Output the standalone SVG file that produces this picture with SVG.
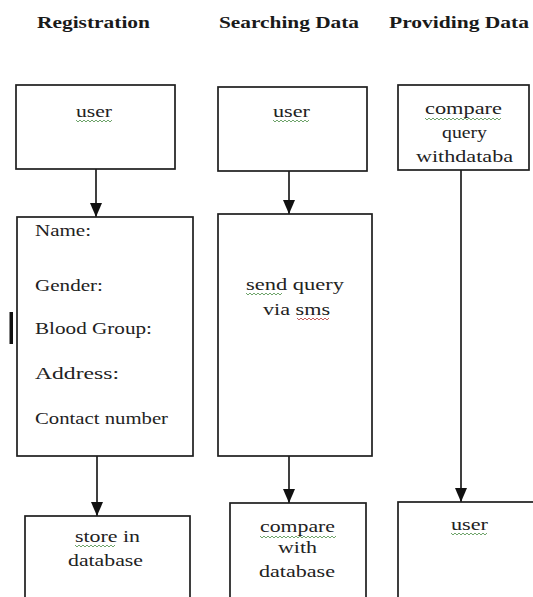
<svg xmlns="http://www.w3.org/2000/svg" width="533" height="597" viewBox="0 0 533 597">
<style>
.bx{fill:#fff;stroke:#1e1e1e;stroke-width:1.7}
.t{font-family:"Liberation Serif","Times New Roman",serif;font-size:16.5px;fill:#222}
.h{font-family:"Liberation Serif","Times New Roman",serif;font-size:16px;font-weight:bold;fill:#1a1a1a}
.cn{stroke:#1e1e1e;stroke-width:1.7;fill:none}
.sqg{stroke:#5f9a5a;stroke-width:0.9;fill:none}
.sqr{stroke:#c04a4a;stroke-width:0.9;fill:none}
</style>
<defs>
<marker id="ah" markerUnits="userSpaceOnUse" viewBox="0 0 14 12" markerWidth="14" markerHeight="12" refX="14" refY="6" orient="auto">
<path d="M0,0 L14,6 L0,12 z" fill="#111"/>
</marker>
</defs>
<rect width="533" height="597" fill="#fff"/>

<g id="titles">
<text class="h" x="37" y="28" textLength="113" lengthAdjust="spacingAndGlyphs">Registration</text>
<text class="h" x="219" y="28" textLength="140" lengthAdjust="spacingAndGlyphs">Searching Data</text>
<text class="h" x="389" y="28" textLength="140" lengthAdjust="spacingAndGlyphs">Providing Data</text>
</g>

<g id="connectors">
<line class="cn" x1="96" y1="169" x2="96" y2="217" marker-end="url(#ah)"/>
<line class="cn" x1="289" y1="171" x2="289" y2="214" marker-end="url(#ah)"/>
<line class="cn" x1="97" y1="456" x2="97" y2="516" marker-end="url(#ah)"/>
<line class="cn" x1="289" y1="456" x2="289" y2="503" marker-end="url(#ah)"/>
<line class="cn" x1="461" y1="170" x2="461" y2="502" marker-end="url(#ah)"/>
</g>

<g id="reg_user">
<rect class="bx" x="16" y="85" width="159" height="84"/>
<text class="t" x="76" y="117" textLength="36" lengthAdjust="spacingAndGlyphs">user</text>
<path class="sqg" d="M76,120 l2,2 l2,-2 l2,2 l2,-2 l2,2 l2,-2 l2,2 l2,-2 l2,2 l2,-2 l2,2 l2,-2 l2,2 l2,-2 l2,2 l2,-2 l2,2 l2,-2"/>
</g>

<g id="reg_form">
<rect class="bx" x="17" y="217" width="176" height="239"/>
<text class="t" x="35" y="236" textLength="56" lengthAdjust="spacingAndGlyphs">Name:</text>
<text class="t" x="35" y="291" textLength="68" lengthAdjust="spacingAndGlyphs">Gender:</text>
<text class="t" x="35" y="334" textLength="117" lengthAdjust="spacingAndGlyphs">Blood Group:</text>
<text class="t" x="35" y="379" textLength="84" lengthAdjust="spacingAndGlyphs">Address:</text>
<text class="t" x="35" y="424" textLength="133" lengthAdjust="spacingAndGlyphs">Contact number</text>
</g>

<rect id="bar" x="9.5" y="312" width="3.5" height="32" fill="#111"/>

<g id="reg_store">
<rect class="bx" x="25" y="516" width="165" height="100"/>
<text class="t" x="75" y="542" textLength="65" lengthAdjust="spacingAndGlyphs">store in</text>
<text class="t" x="68" y="566" textLength="75" lengthAdjust="spacingAndGlyphs">database</text>
<path class="sqg" d="M75,545 l2,2 l2,-2 l2,2 l2,-2 l2,2 l2,-2 l2,2 l2,-2 l2,2 l2,-2 l2,2 l2,-2 l2,2 l2,-2 l2,2 l2,-2 l2,2 l2,-2 l2,2 l2,-2"/>
</g>

<g id="srch_user">
<rect class="bx" x="218" y="87" width="149" height="84"/>
<text class="t" x="273" y="117" textLength="37" lengthAdjust="spacingAndGlyphs">user</text>
<path class="sqg" d="M273,120 l2,2 l2,-2 l2,2 l2,-2 l2,2 l2,-2 l2,2 l2,-2 l2,2 l2,-2 l2,2 l2,-2 l2,2 l2,-2 l2,2 l2,-2 l2,2 l2,-2"/>
</g>

<g id="srch_send">
<rect class="bx" x="218" y="214" width="154" height="242"/>
<text class="t" x="246" y="290" textLength="98" lengthAdjust="spacingAndGlyphs">send query</text>
<text class="t" x="263" y="315" textLength="67" lengthAdjust="spacingAndGlyphs">via sms</text>
<path class="sqg" d="M246,293 l2,2 l2,-2 l2,2 l2,-2 l2,2 l2,-2 l2,2 l2,-2 l2,2 l2,-2 l2,2 l2,-2 l2,2 l2,-2 l2,2 l2,-2 l2,2 l2,-2"/>
<path class="sqr" d="M297,318 l2,2 l2,-2 l2,2 l2,-2 l2,2 l2,-2 l2,2 l2,-2 l2,2 l2,-2 l2,2 l2,-2 l2,2 l2,-2 l2,2 l2,-2"/>
</g>

<g id="srch_compare">
<rect class="bx" x="230" y="503" width="136" height="110"/>
<text class="t" x="260" y="532" textLength="75" lengthAdjust="spacingAndGlyphs">compare</text>
<text class="t" x="278" y="553" textLength="39" lengthAdjust="spacingAndGlyphs">with</text>
<text class="t" x="259" y="577" textLength="76" lengthAdjust="spacingAndGlyphs">database</text>
<path class="sqg" d="M260,536 l2,2 l2,-2 l2,2 l2,-2 l2,2 l2,-2 l2,2 l2,-2 l2,2 l2,-2 l2,2 l2,-2 l2,2 l2,-2 l2,2 l2,-2 l2,2 l2,-2 l2,2 l2,-2 l2,2 l2,-2 l2,2 l2,-2 l2,2 l2,-2 l2,2 l2,-2 l2,2 l2,-2 l2,2 l2,-2 l2,2 l2,-2 l2,2 l2,-2 l2,2 l2,-2"/>
</g>

<g id="prov_compare">
<rect class="bx" x="398" y="85" width="131" height="85"/>
<text class="t" x="425" y="114" textLength="77" lengthAdjust="spacingAndGlyphs">compare</text>
<text class="t" x="442" y="138" textLength="45" lengthAdjust="spacingAndGlyphs">query</text>
<text class="t" x="416" y="162" textLength="97" lengthAdjust="spacingAndGlyphs">withdataba</text>
<path class="sqg" d="M425,118 l2,2 l2,-2 l2,2 l2,-2 l2,2 l2,-2 l2,2 l2,-2 l2,2 l2,-2 l2,2 l2,-2 l2,2 l2,-2 l2,2 l2,-2 l2,2 l2,-2 l2,2 l2,-2 l2,2 l2,-2 l2,2 l2,-2 l2,2 l2,-2 l2,2 l2,-2 l2,2 l2,-2 l2,2 l2,-2 l2,2 l2,-2 l2,2 l2,-2 l2,2 l2,-2"/>
</g>

<g id="prov_user">
<rect class="bx" x="398" y="502" width="150" height="110"/>
<text class="t" x="451" y="530" textLength="37" lengthAdjust="spacingAndGlyphs">user</text>
<path class="sqg" d="M451,533 l2,2 l2,-2 l2,2 l2,-2 l2,2 l2,-2 l2,2 l2,-2 l2,2 l2,-2 l2,2 l2,-2 l2,2 l2,-2 l2,2 l2,-2 l2,2 l2,-2"/>
</g>
</svg>
